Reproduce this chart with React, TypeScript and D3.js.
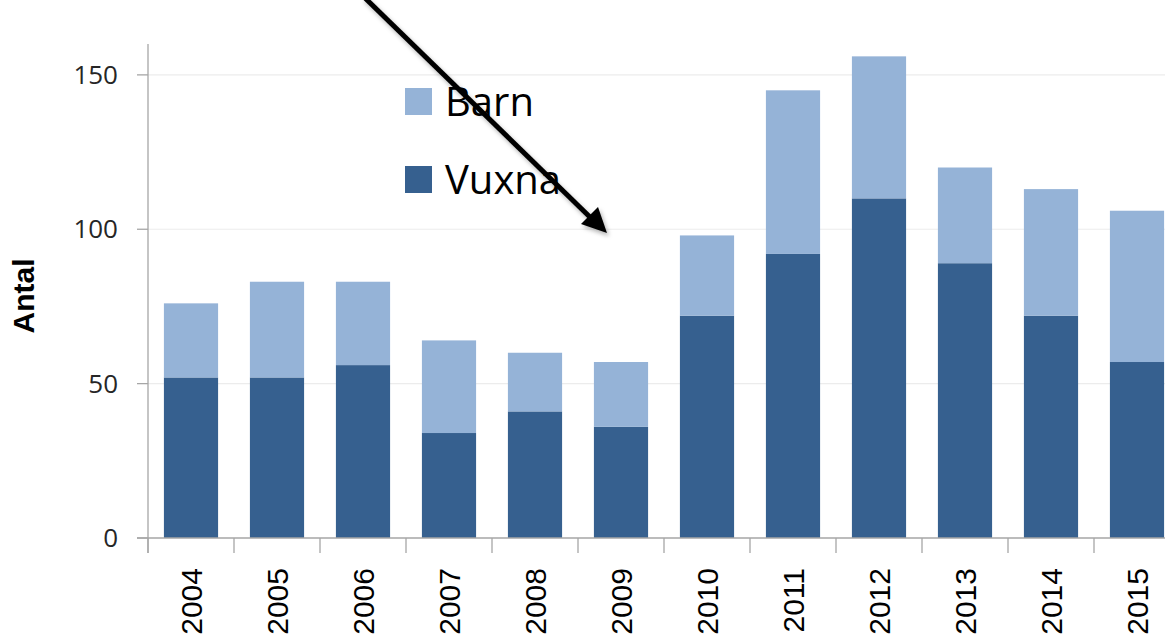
import React from "react";
import * as d3 from "d3";

const years = ["2004","2005","2006","2007","2008","2009","2010","2011","2012","2013","2014","2015"];
const vuxna = [52, 52, 56, 34, 41, 36, 72, 92, 110, 89, 72, 57];
const barn = [24, 31, 27, 30, 19, 21, 26, 53, 46, 31, 41, 49];
const yTicks = [0, 50, 100, 150];
const seriesNames = ["Barn", "Vuxna"];
const colors = { Vuxna: "#36608f", Barn: "#95b3d7" };

const W = 1165, H = 644;

export default function App() {
  const x = d3.scaleBand<string>().domain(years).range([148, 1180]).paddingInner(0.37).paddingOuter(0.185);
  const y = d3.scaleLinear().domain([0, 160]).range([538, 44]);
  const rows = years.map((yr, i) => ({ year: yr, Vuxna: vuxna[i], Barn: barn[i] }));
  const stack = d3.stack<any>().keys(["Vuxna", "Barn"])(rows);
  const step = x.step();

  return (
    <div style={{ position: "absolute", left: 0, top: 0 }}>
      <svg width={W} height={H} style={{ display: "block", background: "#fff" }}>
        <defs>
          <filter id="sh" x="-20%" y="-20%" width="140%" height="140%">
            <feDropShadow dx="2" dy="3" stdDeviation="2" floodColor="#000" floodOpacity="0.3" />
          </filter>
        </defs>
        {/* gridlines */}
        {yTicks.filter(t => t > 0).map(t => (
          <line key={t} x1={148} x2={1165} y1={y(t)} y2={y(t)} stroke="#ececec" strokeWidth={1.2} />
        ))}
        {/* bars */}
        {stack.map(layer => (
          <g key={layer.key}>
            {layer.map((d, i) => (
              <rect key={i} x={x(years[i])} width={x.bandwidth()} y={y(d[1])} height={y(d[0]) - y(d[1])}
                fill={(colors as any)[layer.key]} />
            ))}
          </g>
        ))}
        {/* y axis */}
        <line x1={148} x2={148} y1={44} y2={553} stroke="#a6a6a6" strokeWidth={1.3} />
        {yTicks.map(t => (
          <g key={t}>
            <line x1={137} x2={148} y1={y(t)} y2={y(t)} stroke="#a6a6a6" strokeWidth={1.3} />
            <text x={118} y={y(t)} dy="0.35em" textAnchor="end" fontFamily="'Open Sans', sans-serif" fontSize={26} fill="#262626">{t}</text>
          </g>
        ))}
        {/* x axis */}
        <line x1={137} x2={1165} y1={538} y2={538} stroke="#a6a6a6" strokeWidth={1.3} />
        {years.map((yr, i) => (
          <line key={yr} x1={148 + i * step} x2={148 + i * step} y1={538} y2={553} stroke="#a6a6a6" strokeWidth={1.3} />
        ))}
        {years.map(yr => {
          const cx = (x(yr) as number) + x.bandwidth() / 2;
          return (
            <text key={yr} transform={`translate(${cx + 11},568) rotate(-90)`} textAnchor="end"
              fontFamily="'Liberation Sans', Arial, sans-serif" fontSize={30} fill="#000">{yr}</text>
          );
        })}
        {/* y axis title */}
        <text transform="translate(34,296) rotate(-90)" textAnchor="middle" fontFamily="'Liberation Sans', Arial, sans-serif"
          fontWeight="bold" fontSize={30} fill="#000">Antal</text>
        {/* legend */}
        {seriesNames.map((s, i) => (
          <g key={s} transform={`translate(405,${88 + i * 78})`}>
            <rect width={27} height={27} fill={(colors as any)[s]} />
            <text x={40} y={28} fontFamily="'Open Sans', sans-serif" fontSize={40} fill="#000">{s}</text>
          </g>
        ))}
        {/* arrow */}
        <g filter="url(#sh)">
          <line x1={364} y1={-3} x2={594} y2={221} stroke="#000" strokeWidth={5} />
          <path d="M607,233 L581,224 L598,207 Z" fill="#000" />
        </g>
      </svg>
    </div>
  );
}
